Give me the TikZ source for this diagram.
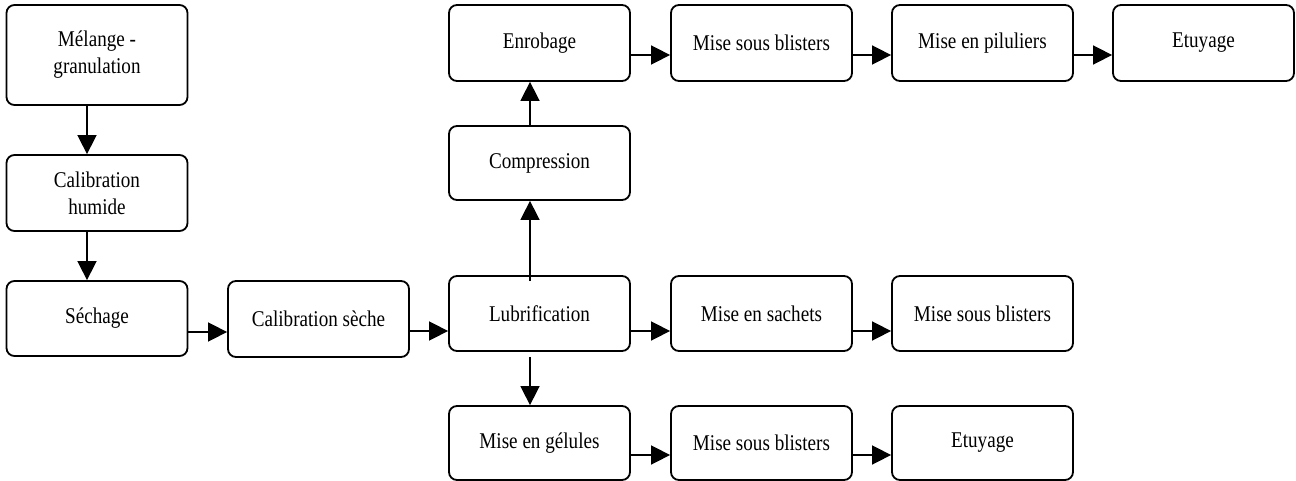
\documentclass[tikz,border=0pt]{standalone}
\usepackage{fontspec}
\setmainfont{Liberation Serif}[FakeStretch=0.85]
\usetikzlibrary{arrows.meta}
\begin{document}
\begin{tikzpicture}[x=1pt,y=-1pt,
  box/.style={draw, line width=1.8pt, rounded corners=8pt, minimum width=181pt, minimum height=75pt,
    inner sep=0pt, align=center, font=\fontsize{22.5}{27}\selectfont},
  arr/.style={line width=1.6pt, -{Triangle[length=19pt,width=19pt]}}]
\useasboundingbox (0,0) rectangle (1296,481);
\node[box, minimum height=100pt] (mel) at (97,55) {Mélange -\\granulation};
\node[box, minimum height=76pt] (calh) at (97,193) {Calibration\\humide};
\node[box] (sech) at (97,318.5) {Séchage};
\node[box, minimum height=76pt] (cals) at (318.5,319) {Calibration sèche};
\node[box] (lub) at (539.5,313.5) {Lubrification};
\node[box, minimum height=74pt] (gel) at (539.5,443) {Mise en gélules};
\node[box, minimum height=76pt] (enr) at (539.5,43) {Enrobage};
\node[box, minimum height=74pt] (comp) at (539.5,163) {Compression};
\node[box, minimum height=76pt] (msb1) at (761.5,43) {Mise sous blisters};
\node[box, minimum height=76pt] (pil) at (982.5,43) {Mise en piluliers};
\node[box, minimum height=76pt] (etu1) at (1203.5,43) {Etuyage};
\node[box] (sach) at (761.5,313.5) {Mise en sachets};
\node[box] (msb2) at (982.5,313.5) {Mise sous blisters};
\node[box, minimum height=74pt] (msb3) at (761.5,443) {Mise sous blisters};
\node[box, minimum height=74pt] (etu2) at (982.5,443) {Etuyage};
% vertical arrows
\draw[arr] (mel.south -| 87,0) -- (calh.north -| 87,0);
\draw[arr] (calh.south -| 87,0) -- (sech.north -| 87,0);
\draw[arr, shorten <=-6pt] (lub.north -| 530,0) -- (comp.south -| 530,0);
\draw[arr] (comp.north -| 530,0) -- (enr.south -| 530,0);
\draw[arr, shorten <=5pt] (lub.south -| 530,0) -- (gel.north -| 530,0);
% horizontal arrows
\draw[arr] (sech.east |- 0,332) -- (cals.west |- 0,332);
\draw[arr] (cals.east |- 0,331) -- (lub.west |- 0,331);
\draw[arr] (lub.east |- 0,331) -- (sach.west |- 0,331);
\draw[arr] (sach.east |- 0,331) -- (msb2.west |- 0,331);
\draw[arr] (enr.east |- 0,55) -- (msb1.west |- 0,55);
\draw[arr] (msb1.east |- 0,55) -- (pil.west |- 0,55);
\draw[arr] (pil.east |- 0,55) -- (etu1.west |- 0,55);
\draw[arr] (gel.east |- 0,455) -- (msb3.west |- 0,455);
\draw[arr] (msb3.east |- 0,455) -- (etu2.west |- 0,455);
\end{tikzpicture}
\end{document}
